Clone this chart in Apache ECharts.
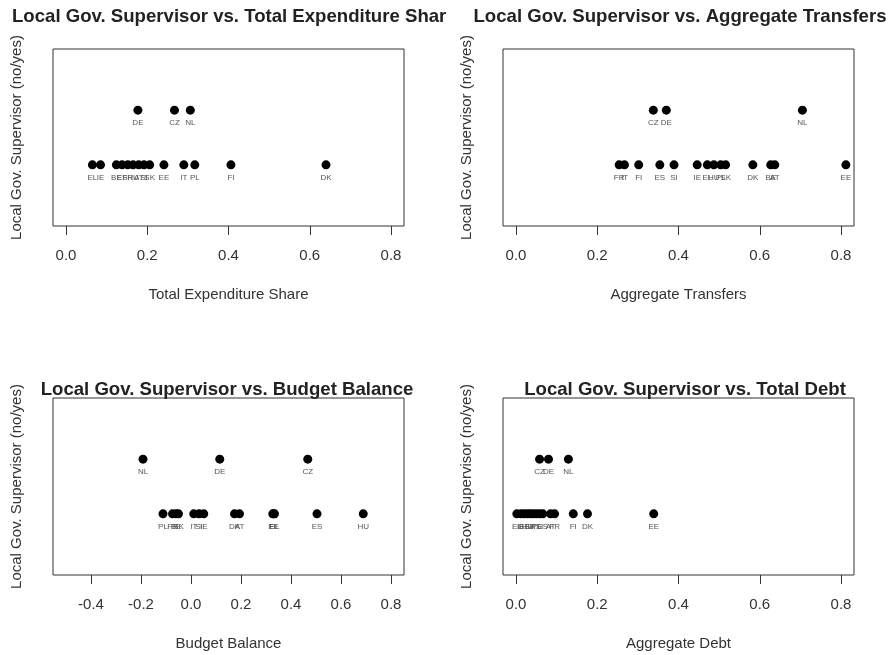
<!DOCTYPE html>
<html style="height: 100%">
<head>
<meta charset="utf-8">
<script src="https://cdn.jsdelivr.net/npm/echarts@6/dist/echarts.min.js"></script>
<title>Local Gov. Supervisor</title>
</head>
<body style="height: 100%; margin: 0; background: #fff">
<div id="container" style="width: 890px; height: 655px"></div>
<script type="text/javascript">

// countries and whether a local gov. supervisor exists (1 = yes)
const countries  = ['AT', 'BE', 'CZ', 'DE', 'DK', 'EE', 'EL', 'ES', 'FI', 'FR', 'HU', 'IE', 'IT', 'NL', 'PL', 'SI', 'SK'];
const supervisor = [0, 0, 1, 1, 0, 0, 0, 0, 0, 0, 0, 0, 0, 1, 0, 0, 0];

const expShare  = [0.179, 0.124, 0.267, 0.177, 0.640, 0.241, 0.065, 0.138, 0.406, 0.152, 0.165, 0.085, 0.290, 0.306, 0.317, 0.192, 0.206];
const transfers = [0.637, 0.627, 0.338, 0.370, 0.583, 0.812, 0.471, 0.354, 0.302, 0.254, 0.487, 0.446, 0.267, 0.705, 0.504, 0.389, 0.516];
const balance   = [0.194, -0.060, 0.467, 0.115, 0.174, 0.330, 0.334, 0.504, 0.327, -0.074, 0.689, 0.051, 0.011, -0.192, -0.112, 0.032, -0.050];
const debt      = [0.085, 0.020, 0.058, 0.080, 0.176, 0.339, 0.002, 0.066, 0.141, 0.095, 0.028, 0.012, 0.042, 0.129, 0.050, 0.058, 0.035];

const ticksPos  = [0, 0.2, 0.4, 0.6, 0.8];
const ticksBal  = [-0.4, -0.2, 0, 0.2, 0.4, 0.6, 0.8];

const titles = [
    'Local Gov. Supervisor vs. Total Expenditure Share',
    'Local Gov. Supervisor vs. Aggregate Transfers',
    'Local Gov. Supervisor vs. Budget Balance',
    'Local Gov. Supervisor vs. Total Debt'
];
const xNames = ['Total Expenditure Share', 'Aggregate Transfers', 'Budget Balance', 'Aggregate Debt'];

const font = '"Liberation Sans", Arial, Helvetica, sans-serif';
const ink = '#333';

const panels = [
    {vals: expShare,  min: -0.032, max: 0.832, ticks: ticksPos, left: 53,  top: 49},
    {vals: transfers, min: -0.032, max: 0.832, ticks: ticksPos, left: 503, top: 49},
    {vals: balance,   min: -0.552, max: 0.852, ticks: ticksBal, left: 53,  top: 398},
    {vals: debt,      min: -0.032, max: 0.832, ticks: ticksPos, left: 503, top: 398}
];

let grids = [], xAxes = [], yAxes = [], series = [];
panels.forEach(function (p, i) {
    grids.push({left: p.left, top: p.top, width: 351, height: 177,
        show: true, borderColor: ink, borderWidth: 1});
    xAxes.push({
        type: 'value', gridIndex: i, min: p.min, max: p.max,
        name: xNames[i], nameLocation: 'middle', nameGap: 61,
        nameTextStyle: {fontFamily: font, fontSize: 15, color: ink},
        axisLine: {show: false, onZero: false},
        axisTick: {show: true, length: 9, customValues: p.ticks, lineStyle: {color: ink}},
        axisLabel: {customValues: p.ticks, margin: 22, fontFamily: font, fontSize: 15, color: ink,
            formatter: v => v.toFixed(1)},
        splitLine: {show: false}
    });
    yAxes.push({
        type: 'value', gridIndex: i, min: -1.12, max: 2.12,
        name: 'Local Gov. Supervisor (no/yes)', nameLocation: 'middle', nameGap: 29,
        nameTextStyle: {fontFamily: font, fontSize: 15, color: ink},
        axisLine: {show: false, onZero: false}, axisTick: {show: false}, axisLabel: {show: false},
        splitLine: {show: false}
    });
    let data = countries.map((c, k) => ({value: [p.vals[k], supervisor[k]], name: c}));
    series.push({
        type: 'scatter', xAxisIndex: i, yAxisIndex: i,
        symbolSize: 9, itemStyle: {color: '#000', opacity: 1},
        label: {show: true, position: 'bottom', distance: 4, formatter: '{b}',
            fontFamily: font, fontSize: 8, color: '#555'},
        emphasis: {disabled: true},
        data: data
    });
});

const titleStyle = {fontFamily: font, fontSize: 18.6, fontWeight: 'bold', color: '#222'};

let chart = echarts.init(document.getElementById('container'));
chart.setOption({
    animation: false,
    title: [
        {text: titles[0], left: 7, top: 2, textStyle: Object.assign({width: 438, overflow: 'truncate', ellipsis: ''}, titleStyle)},
        {text: titles[1], left: 675, top: 2, textAlign: 'center', textStyle: titleStyle},
        {text: titles[2], left: 222, top: 375, textAlign: 'center', textStyle: titleStyle},
        {text: titles[3], left: 680, top: 375, textAlign: 'center', textStyle: titleStyle}
    ],
    grid: grids,
    xAxis: xAxes,
    yAxis: yAxes,
    series: series
});

</script>
</body>
</html>
